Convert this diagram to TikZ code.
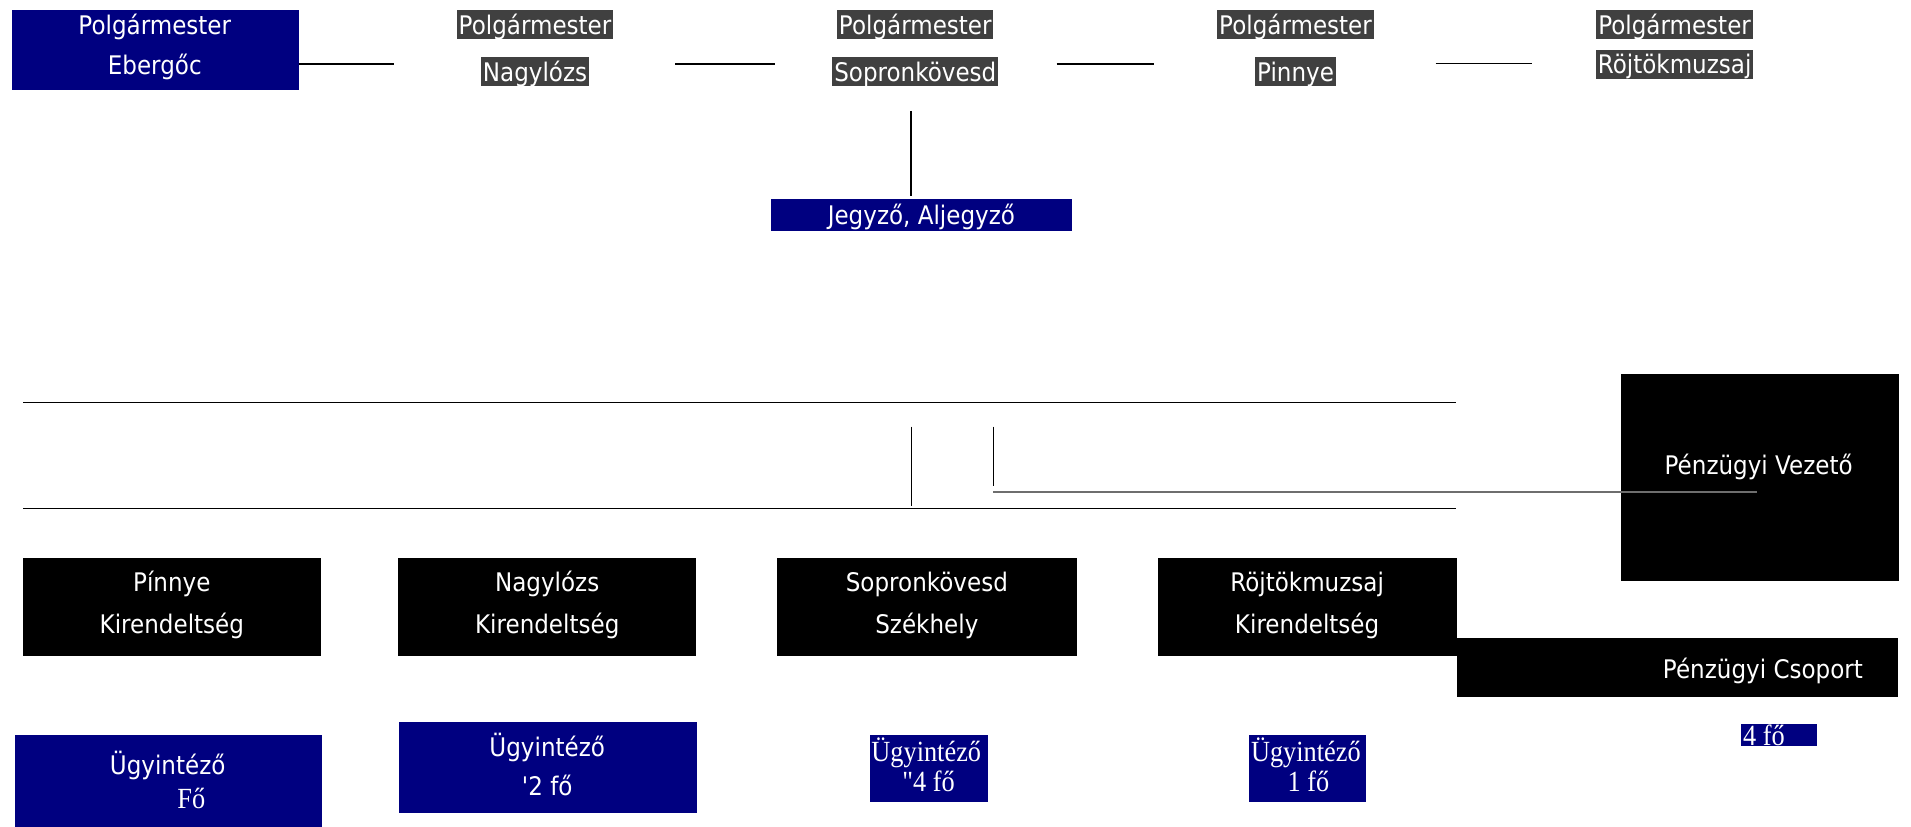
\documentclass[tikz,border=0pt]{standalone}
\usepackage{fontspec}
\setmainfont{DejaVu Sans}[FakeStretch=0.9]
\newfontfamily\dvsfont{DejaVu Sans}[FakeStretch=0.9]
\newfontfamily\tnrfont{Liberation Serif}[FakeStretch=0.9]
\definecolor{navy}{HTML}{000080}
\definecolor{hlgray}{HTML}{404040}
\definecolor{lngray}{HTML}{6E6E6E}
\newcommand\szSans{\dvsfont\fontsize{21pt}{24pt}\selectfont}
\newcommand\szSer{\tnrfont\fontsize{24pt}{26pt}\selectfont}
\begin{document}
\begin{tikzpicture}[x=1pt,y=-1pt,
  txt/.style={text=white, font=\szSans, inner sep=0pt, anchor=base},
  ser/.style={text=white, font=\szSer, inner sep=0pt, anchor=base},
  hl/.style={fill=hlgray, text=white, font=\szSans, inner xsep=1.5pt, inner ysep=0pt,
             text height=20pt, text depth=4pt, anchor=north},
  navybox/.style={fill=navy, draw=none, inner sep=0pt, anchor=north west},
  blackbox/.style={fill=black, draw=none, inner sep=0pt, anchor=north west},
  conn/.style={draw=black, line width=1.1pt},
  greyconn/.style={draw=lngray, line width=1.6pt}]
\useasboundingbox (0,0) rectangle (1568,678);

% ---- top row ----
\node[navybox, minimum width=235pt, minimum height=66pt] (eb) at (10,8) {};
\node[txt] (ebA) at (127,28) {Polgármester};
\node[txt] (ebB) at (127,61) {Ebergőc};

\node[hl] (nlA) at (439,8) {Polgármester};
\node[hl] (nlB) at (439,46.5) {Nagylózs};
\node[hl] (skA) at (751,8) {Polgármester};
\node[hl] (skB) at (751,46.5) {Sopronkövesd};
\node[hl] (pnA) at (1063,8) {Polgármester};
\node[hl] (pnB) at (1063,46.5) {Pinnye};
\node[hl] (rkA) at (1374,8) {Polgármester};
\node[hl] (rkB) at (1374,40.5) {Röjtökmuzsaj};

\coordinate (c1a) at (245,52.5); \coordinate (c1b) at (323,52.5);
\coordinate (c2a) at (554,52.5); \coordinate (c2b) at (636,52.5);
\coordinate (c3a) at (867,52.5); \coordinate (c3b) at (947,52.5);
\coordinate (c4a) at (1178,52); \coordinate (c4b) at (1257,52);
\draw[conn] (c1a) -- (c1b);
\draw[conn] (c2a) -- (c2b);
\draw[conn] (c3a) -- (c3b);
\draw[conn] (c4a) -- (c4b);

\node[navybox, minimum width=247pt, minimum height=26pt] (jb) at (632.5,163) {};
\node[txt] (jt) at (756,184) {Jegyző, Aljegyző};
\coordinate (v1a) at (747.5,91); \coordinate (v1b) at (747.5,161);
\draw[conn] (v1a) -- (v1b);

% ---- middle ----
\coordinate (h1a) at (19,330); \coordinate (h1b) at (1195,330);
\coordinate (h2a) at (19,417); \coordinate (h2b) at (1195,417);
\draw[conn] (h1a) -- (h1b);
\draw[conn] (h2a) -- (h2b);
\coordinate (v2a) at (748,350); \coordinate (v2b) at (748,415.5);
\draw[conn] (v2a) -- (v2b);

\node[blackbox, minimum width=228pt, minimum height=169.5pt] (pv) at (1330,307) {};
\node[txt] (pvt) at (1443,389) {Pénzügyi Vezető};

\coordinate (v3a) at (815,350); \coordinate (v3b) at (815,399);
\draw[conn] (v3a) -- (v3b);
\coordinate (g1a) at (815,403.4); \coordinate (g1b) at (1442,403.4);
\draw[greyconn] (g1a) -- (g1b);

% ---- branch offices ----
\node[blackbox, minimum width=244pt, minimum height=80pt] (b1) at (19,458) {};
\node[blackbox, minimum width=244.5pt, minimum height=80pt] (b2) at (326.6,458) {};
\node[blackbox, minimum width=246pt, minimum height=80pt] (b3) at (637.6,458) {};
\node[blackbox, minimum width=245.2pt, minimum height=80pt] (b4) at (949.8,458) {};
\node[blackbox, minimum width=362.5pt, minimum height=48pt] (pc) at (1195,523.5) {};

\node[txt] (b1a) at (141,485) {Pínnye};
\node[txt] (b1b) at (141,520) {Kirendeltség};
\node[txt] (b2a) at (449,485) {Nagylózs};
\node[txt] (b2b) at (449,520) {Kirendeltség};
\node[txt] (b3a) at (760.5,485) {Sopronkövesd};
\node[txt] (b3b) at (760.5,520) {Székhely};
\node[txt] (b4a) at (1072.5,485) {Röjtökmuzsaj};
\node[txt] (b4b) at (1072.5,520) {Kirendeltség};
\node[txt] (pct) at (1446.5,556.6) {Pénzügyi Csoport};

% ---- staff ----
\node[navybox, minimum width=252pt, minimum height=75pt] (u1) at (12,603) {};
\node[navybox, minimum width=244.3pt, minimum height=74.4pt] (u2) at (327.5,592.4) {};
\node[navybox, minimum width=96.6pt, minimum height=55pt] (u3) at (714,603) {};
\node[navybox, minimum width=96pt, minimum height=55pt] (u4) at (1025,603) {};
\node[navybox, minimum width=62.5pt, minimum height=18pt] (u5) at (1428.5,594) {};

\node[txt] (u1a) at (137.6,635.5) {Ügyintéző};
\node[ser] (u1b) at (157,663) {Fő};
\node[txt] (u2a) at (449,620.5) {Ügyintéző};
\node[txt] (u2b) at (449,652.5) {'2 fő};
\node[ser] (u3a) at (760,625) {Ügyintéző};
\node[ser] (u3b) at (762,649.5) {"4 fő};
\node[ser] (u4a) at (1071.5,625) {Ügyintéző};
\node[ser] (u4b) at (1073.5,649.5) {1 fő};
\node[ser, anchor=base west] (u5t) at (1430,611.3) {4 fő};
\end{tikzpicture}
\end{document}
